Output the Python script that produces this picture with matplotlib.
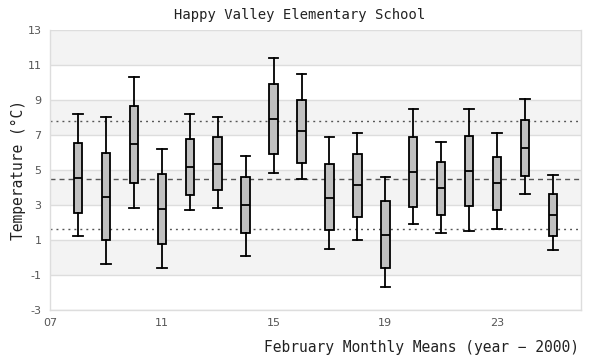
import numpy as np
import matplotlib
matplotlib.use("Agg")
from matplotlib import pyplot as plt

# February monthly means, per year (year - 2000)
years = list(range(8, 26))
whis_hi = [8.2, 8.03, 10.31, 6.2, 8.2, 8.03, 5.8, 11.4, 10.49, 6.89, 7.11, 4.6, 8.49, 6.6, 8.49, 7.11, 9.09, 4.71]
q3 = [6.54, 5.97, 8.66, 4.77, 6.77, 6.89, 4.6, 9.91, 9.0, 5.34, 5.91, 3.23, 6.89, 5.46, 6.94, 5.74, 7.86, 3.63]
medians = [4.52, 3.46, 6.49, 2.77, 5.17, 5.34, 3.02, 7.91, 7.23, 3.43, 4.16, 1.29, 4.89, 3.97, 4.94, 4.26, 6.26, 2.43]
q1 = [2.54, 0.98, 4.26, 0.77, 3.57, 3.86, 1.4, 5.91, 5.4, 1.57, 2.31, -0.6, 2.89, 2.43, 2.92, 2.71, 4.64, 1.23]
whis_lo = [1.23, -0.37, 2.83, -0.6, 2.71, 2.83, 0.09, 4.83, 4.49, 0.49, 1.0, -1.69, 1.91, 1.4, 1.51, 1.63, 3.63, 0.43]

overall_mean = 4.49
upper_sd = 7.8
lower_sd = 1.63

yticks = [-3, -1, 1, 3, 5, 7, 9, 11, 13]
xticks = [7, 11, 15, 19, 23]

mono = "DejaVu Sans Mono"

fig = plt.figure(figsize=(6, 3.6), dpi=100)
ax = fig.add_axes([0.0833, 0.139, 0.885, 0.777])

# alternating background bands
for i in range(len(yticks) - 1):
    if i % 2 == 0:
        continue
    ax.axhspan(yticks[i], yticks[i + 1], color="#f3f3f3", zorder=0, lw=0)
ax.axhspan(yticks[-2], yticks[-1], color="#f3f3f3", zorder=0, lw=0)
for y in yticks:
    ax.axhline(y, color="#dddddd", lw=1, zorder=1)

ax.axhline(overall_mean, color="#555555", lw=1, ls=(0, (3.6, 2.9)), zorder=2)
ax.axhline(upper_sd, color="#555555", lw=1, ls=(0, (1.4, 2.9)), zorder=2)
ax.axhline(lower_sd, color="#555555", lw=1, ls=(0, (1.4, 2.9)), zorder=2)

stats = []
for i in range(len(years)):
    stats.append({"med": medians[i], "q1": q1[i], "q3": q3[i],
                  "whislo": whis_lo[i], "whishi": whis_hi[i], "fliers": []})

ax.bxp(stats, positions=years, widths=0.3, patch_artist=True,
       showfliers=False, manage_ticks=False,
       boxprops=dict(facecolor="#c0c0c0", edgecolor="black", lw=1.3),
       medianprops=dict(color="black", lw=1.3),
       whiskerprops=dict(color="black", lw=1.3),
       capprops=dict(color="black", lw=1.3),
       capwidths=0.34, zorder=3)

ax.set_xlim(7, 26)
ax.set_ylim(-3, 13)
ax.set_yticks(yticks)
ax.set_yticklabels([str(v) for v in yticks])
ax.set_xticks(xticks)
ax.set_xticklabels(["%02d" % v for v in xticks])
ax.tick_params(length=0, labelsize=8, colors="#555555", pad=6)
for s in ax.spines.values():
    s.set_color("#dddddd")
    s.set_linewidth(1)
ax.spines["top"].set_visible(False)

fig.text(0.5, 0.958, "Happy Valley Elementary School", ha="center", va="center",
         family=mono, fontsize=10, color="#222222")
fig.text(0.03, 0.527, "Temperature (°C)", rotation=90, ha="center", va="center",
         family=mono, fontsize=10.5, color="#222222")
fig.text(0.965, 0.035, "February Monthly Means (year − 2000)", ha="right", va="center",
         family=mono, fontsize=10.5, color="#222222")

plt.savefig("out.png", dpi=100)
